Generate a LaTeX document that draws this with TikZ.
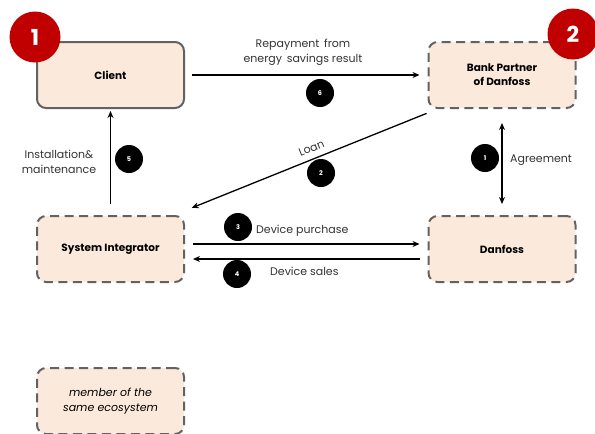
\documentclass[tikz,border=0pt]{standalone}
\usepackage{fontspec}
\setmainfont{Poppins}
\usetikzlibrary{arrows.meta,calc}
\definecolor{boxfill}{HTML}{FBEADB}
\definecolor{boxline}{HTML}{626262}
\definecolor{badgered}{HTML}{C00000}
\definecolor{txt}{HTML}{333333}
\begin{document}
\begin{tikzpicture}[x=1pt,y=-1pt,
 actor/.style={draw=boxline, line width=2pt, fill=boxfill, rounded corners=9pt, minimum width=147pt, minimum height=66pt, inner sep=0pt, align=center, font=\fontsize{10.5}{14}\selectfont\bfseries, text=black},
 member/.style={actor, dash pattern=on 9pt off 5.5pt},
 badge/.style={circle, fill=badgered, minimum size=51pt, inner sep=0pt, text=white, font=\fontsize{22}{22}\selectfont\bfseries},
 stepnum/.style={circle, fill=black, minimum size=28pt, inner sep=0pt, text=white, font=\fontsize{6.5}{6.5}\selectfont\bfseries},
 flow/.style={line width=1.3pt, -{Stealth[length=7pt,width=6pt]}},
 lbl/.style={font=\fontsize{11}{15}\selectfont, text=txt, align=center, inner sep=1pt}
]
\useasboundingbox (0,0) rectangle (595,434);
% boxes
\node[actor] (client) at (110.5,75) {Client};
\node[member] (bank) at (502,75) {Bank Partner\\of Danfoss};
\node[member] (si) at (110.5,249) {System Integrator};
\node[member] (danfoss) at (502,249) {Danfoss};
\node[member, font=\fontsize{11}{15}\selectfont\itshape] (legend) at (110.5,401) {member of the\\same ecosystem};
% badges
\node[badge] (b1) at (35,37) {1};
\node[badge] (b2) at (573,34) {2};
% arrow 6
\draw[flow, shorten <=7pt, shorten >=8pt] (client.east) -- (bank.west);
\node[lbl] (t6) at (303,52) {Repayment\, from\\energy\, savings result};
\node[stepnum] (n6) at (320,93) {6};
% loan
\draw[flow, shorten <=1pt, shorten >=3pt] ($(bank.south west)+(0,4)$) -- node[lbl, sloped, above=5pt, pos=0.47] (tl) {Loan} ($(si.north east)+(4,-6)$);
\node[stepnum] (n2) at (321,173) {2};
% arrow 5
\draw[flow, shorten <=11pt, shorten >=2pt] (si.north) -- (client.south);
\node[lbl] (t5) at (59,162) {Installation\&\\maintenance};
\node[stepnum] (n5) at (129,159) {5};
% arrow 1
\draw[line width=1.3pt, {Stealth[length=7pt,width=6pt]}-{Stealth[length=7pt,width=6pt]}, shorten <=14pt, shorten >=11pt] (bank.south) -- (danfoss.north);
\node[stepnum] (n1) at (485,158) {1};
\node[lbl, anchor=west] (t1) at (509,160) {Agreement};
% arrows 3 & 4
\draw[flow, shorten <=8pt, shorten >=8pt] ($(si.east)+(0,-5)$) -- ($(danfoss.west)+(0,-5)$);
\draw[flow, shorten <=8pt, shorten >=8pt] ($(danfoss.west)+(0,10)$) -- ($(si.east)+(0,10)$);
\node[stepnum] (n3) at (238,227) {3};
\node[lbl, anchor=west] (t3) at (255,231) {Device purchase};
\node[stepnum] (n4) at (237,274) {4};
\node[lbl, anchor=west] (t4) at (269,271) {Device sales};
\end{tikzpicture}
\end{document}
